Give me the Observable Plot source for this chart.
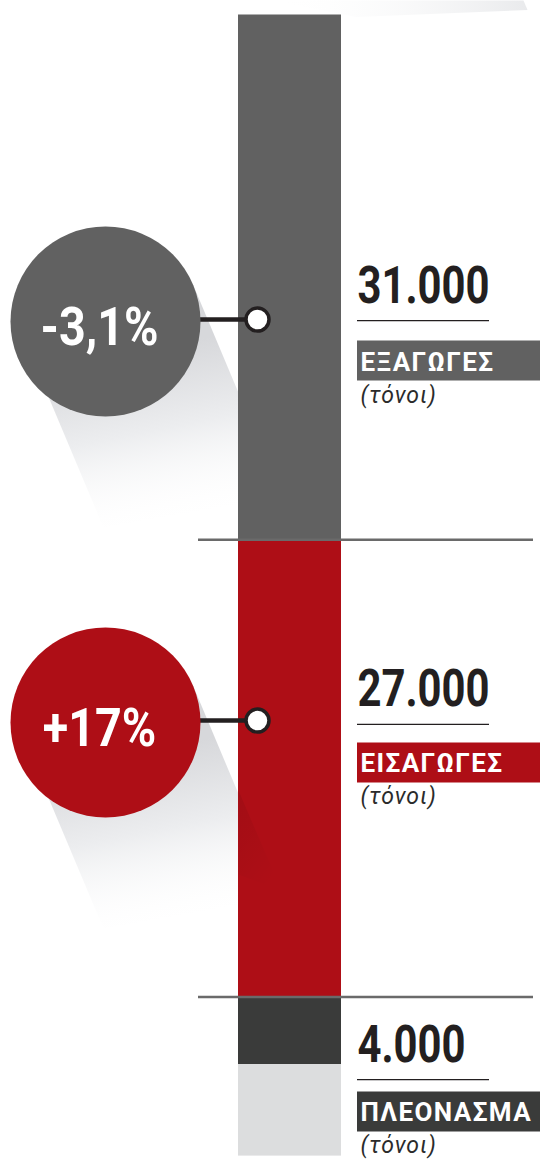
<!DOCTYPE html>
<html>
<head>
<meta charset="utf-8">
<script src="https://cdn.jsdelivr.net/npm/d3@7"></script>
<script src="https://cdn.jsdelivr.net/npm/@observablehq/plot@0.6"></script>
<style>
  html, body { margin: 0; padding: 0; background: #ffffff; }
  #chart svg { display: block; }
  g[font-size="26"] text { letter-spacing: 1.4px; }
  g[font-size="23"] text { letter-spacing: 0.9px; }
</style>
</head>
<body>
<svg width="0" height="0" style="position:absolute">
  <defs>
    <linearGradient id="badgeShadow" x1="0.4" y1="0.28" x2="0.55" y2="1">
      <stop offset="0" stop-color="#d7d8db"/>
      <stop offset="0.45" stop-color="#ecedef"/>
      <stop offset="1" stop-color="#ffffff" stop-opacity="0"/>
    </linearGradient>
    <linearGradient id="barShadow" x1="0" y1="0" x2="0.6" y2="1">
      <stop offset="0" stop-color="#000000" stop-opacity="0.07"/>
      <stop offset="1" stop-color="#000000" stop-opacity="0"/>
    </linearGradient>
    <linearGradient id="topShadow" x1="0" y1="0" x2="1" y2="0">
      <stop offset="0" stop-color="#ffffff" stop-opacity="0"/>
      <stop offset="1" stop-color="#e9eaec"/>
    </linearGradient>
  </defs>
</svg>
<div id="chart"></div>
<script>
// ---- data ----
const categories = ["ΕΞΑΓΩΓΕΣ", "ΕΙΣΑΓΩΓΕΣ", "ΠΛΕΟΝΑΣΜΑ"];
const values = [31000, 27000, 4000];           // tonnes
const changes = ["-3,1%", "+17%"];            // change for exports, imports
const unitLabel = "(τόνοι)";
const tailValue = 5400;                        // light grey continuation of the column
const colors = ["#616161", "#ae0e16", "#3a3b3a"];
const tailColor = "#dcddde";

// ---- layout (not data) ----
const layout = {
  barX: [238, 341],
  badgeX: 105, badgeR: 95, markerX: 257,
  separatorX: [198, 533],
  labelX: [357, 540], underlineX2: 489,
  badgeAt: [17986, 41672],          // position along the column (tonnes)
  ruleAt: [18050, 41900, 62880],
  boxAt: [20410, 44150, 64760]
};

const fmt = d3.formatLocale({decimal: ",", thousands: ".", grouping: [3], currency: ["", "€"]}).format(",");

const segVals = values.concat([tailValue]);
const segColors = colors.concat([tailColor]);
const ends = d3.cumsum(segVals);
const segments = segVals.map((v, i) => ({value: v, y1: ends[i] - v, y2: ends[i], color: segColors[i]}));
const boundaries = [ends[0], ends[1]];

const labels = categories.map((c, i) => ({
  name: c, text: fmt(values[i]), color: colors[i],
  ruleAt: layout.ruleAt[i], boxAt: layout.boxAt[i]
}));
const badges = changes.map((t, i) => ({text: t, color: colors[i], at: layout.badgeAt[i]}));

const shadowSymbol = {
  draw(ctx) {
    ctx.moveTo(-74, 35); ctx.lineTo(87.5, -37); ctx.lineTo(176.5, 175); ctx.lineTo(-2, 206); ctx.closePath();
  }
};
const barShadowSymbol = {
  draw(ctx) {
    ctx.moveTo(133, 68); ctx.lineTo(176, 168); ctx.lineTo(133, 152); ctx.closePath();
  }
};
const topSymbol = {
  draw(ctx) {
    ctx.moveTo(-128, -14.5); ctx.lineTo(124, -14.5); ctx.lineTo(128, -5); ctx.lineTo(-43, 2); ctx.closePath();
  }
};

const chart = Plot.plot({
  width: 540, height: 1161,
  marginTop: 0, marginRight: 0, marginBottom: 0, marginLeft: 0,
  x: {domain: [0, 540], range: [0, 540], axis: null},
  y: {domain: [0, 67500], range: [14.5, 1157.3], axis: null},
  color: {type: "identity"},
  style: {background: "#ffffff", fontFamily: "Roboto, sans-serif"},
  marks: [
    Plot.dot([0], {x: 399, y: d => d, symbol: topSymbol, r: 10, fill: "url(#topShadow)"}),
    Plot.dot(badges, {x: layout.badgeX, y: "at", dy: 2, symbol: shadowSymbol, r: 50, fill: "url(#badgeShadow)"}),
    Plot.rect(segments, {x1: layout.barX[0], x2: layout.barX[1], y1: "y1", y2: "y2", fill: "color"}),
    Plot.dot(badges.slice(1), {x: layout.badgeX, y: "at", dy: 2, symbol: barShadowSymbol, r: 50, fill: "url(#barShadow)"}),
    Plot.ruleY(boundaries, {x1: layout.separatorX[0], x2: layout.separatorX[1], stroke: "#6a6a6a", strokeWidth: 2.5}),
    Plot.ruleY(badges, {y: "at", x1: 200, x2: layout.markerX, stroke: "#231f20", strokeWidth: 4.5}),
    Plot.dot(badges, {x: layout.badgeX, y: "at", dy: 2, r: layout.badgeR, fill: "color"}),
    Plot.dot(badges, {x: layout.markerX, y: "at", r: 11.5, fill: "#ffffff", stroke: "#231f20", strokeWidth: 3.5}),
    Plot.text(badges, {x: layout.badgeX - 6, y: "at", dy: 25, text: "text", fill: "#ffffff", fontSize: 53, fontWeight: 700,
      fontFamily: "Roboto", textAnchor: "middle", lineAnchor: "bottom"}),
    Plot.text(labels, {x: 357, y: "ruleAt", dy: -18, text: "text", fill: "#231f20", fontSize: 51, fontWeight: 700,
      fontFamily: "Roboto", textAnchor: "start", lineAnchor: "bottom"}),
    Plot.ruleY(labels, {y: "ruleAt", x1: layout.labelX[0], x2: layout.underlineX2, stroke: "#231f20", strokeWidth: 1.3}),
    Plot.ruleY(labels, {y: "boxAt", x1: layout.labelX[0], x2: layout.labelX[1], stroke: "color", strokeWidth: 40}),
    Plot.text(labels, {x: 360, y: "boxAt", dy: 10, text: "name", fill: "#ffffff", fontSize: 26, fontWeight: 700,
      fontFamily: "Roboto", textAnchor: "start", lineAnchor: "bottom"}),
    Plot.text(labels, {x: 360, y: "boxAt", dy: 42, text: () => unitLabel, fill: "#2b2b2b", fontSize: 23,
      fontStyle: "italic", fontFamily: "Roboto", textAnchor: "start", lineAnchor: "bottom"})
  ]
});
document.getElementById("chart").append(chart);

// condensed display type: squeeze the big numerals horizontally
const condense = {"51": 0.82, "53": 0.88};
d3.select(chart).selectAll("g[font-size] text").each(function () {
  const f = condense[this.parentNode.getAttribute("font-size")];
  if (f) {
    const w = this.getComputedTextLength();
    this.setAttribute("textLength", (w * f).toFixed(1));
    this.setAttribute("lengthAdjust", "spacingAndGlyphs");
  }
});
</script>
</body>
</html>
